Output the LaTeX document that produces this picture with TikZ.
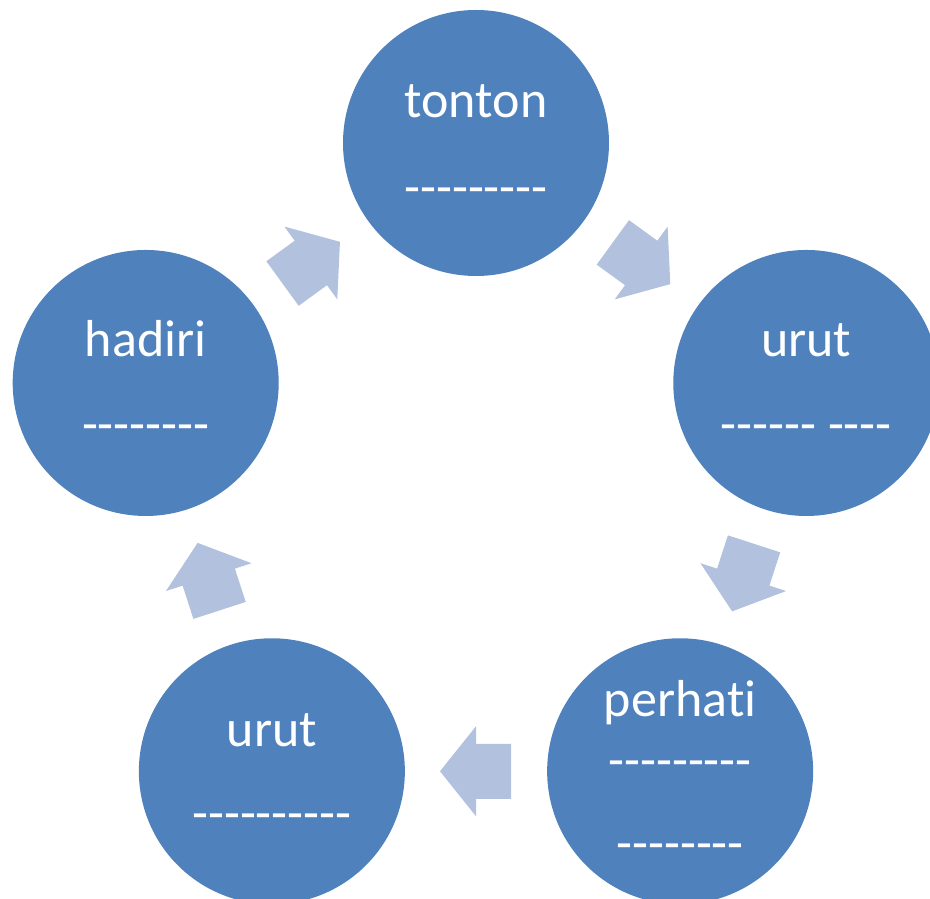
\documentclass[tikz,border=0pt]{standalone}
\usepackage{fontspec}
\setmainfont{Carlito}[Ligatures={TeXOff,NoCommon}]
\definecolor{circblue}{HTML}{4F81BD}
\definecolor{arrblue}{HTML}{B2C1DD}
\begin{document}
\begin{tikzpicture}[x=1pt,y=1pt,
  stage/.style={circle, fill=circblue, minimum size=266pt, inner sep=0pt},
  lbl/.style={text=white, font=\fontsize{52}{62}\selectfont, anchor=base, inner sep=0pt},
  cyclearrow/.pic={\fill[arrblue] (-35,-27.5) -- (0,-27.5) -- (0,-45) -- (36,0) -- (0,45) -- (0,27.5) -- (-35,27.5) -- cycle;}]
\useasboundingbox (0,0) rectangle (930,898);
\clip (0,0) rectangle (930,898);
\coordinate (ctr) at (476,407.7);
% stages
\node[stage] (c1) at ([shift={(90:347.3)}]ctr) {};
\node[stage] (c2) at ([shift={(18:347.3)}]ctr) {};
\node[stage] (c3) at ([shift={(-54:347.3)}]ctr) {};
\node[stage] (c4) at ([shift={(-126:347.3)}]ctr) {};
\node[stage] (c5) at ([shift={(162:347.3)}]ctr) {};
% labels
\node[lbl] (t1a) at ([yshift=25]c1.center) {tonton};
\node[lbl] (t1b) at ([yshift=-62]c1.center) {---------};
\node[lbl] (t2a) at ([yshift=26]c2.center) {urut};
\node[lbl] (t2b) at ([yshift=-59]c2.center) {------ ----};
\node[lbl] (t3a) at ([yshift=55]c3.center) {perhati};
\node[lbl] (t3b) at ([yshift=-6]c3.center) {---------};
\node[lbl] (t3c) at ([yshift=-89]c3.center) {--------};
\node[lbl] (t4a) at ([yshift=25]c4.center) {urut};
\node[lbl] (t4b) at ([yshift=-59]c4.center) {----------};
\node[lbl] (t5a) at ([yshift=26]c5.center) {hadiri};
\node[lbl] (t5b) at ([yshift=-59]c5.center) {--------};
% arrows
\pic[rotate=-36] (a12) at ([shift={(54:281)}]ctr) {cyclearrow};
\pic[rotate=-108] (a23) at ([shift={(-18:281)}]ctr) {cyclearrow};
\pic[rotate=180] (a34) at ([shift={(-90:281)}]ctr) {cyclearrow};
\pic[rotate=108] (a45) at ([shift={(-162:281)}]ctr) {cyclearrow};
\pic[rotate=36] (a51) at ([shift={(126:281)}]ctr) {cyclearrow};
\end{tikzpicture}
\end{document}
